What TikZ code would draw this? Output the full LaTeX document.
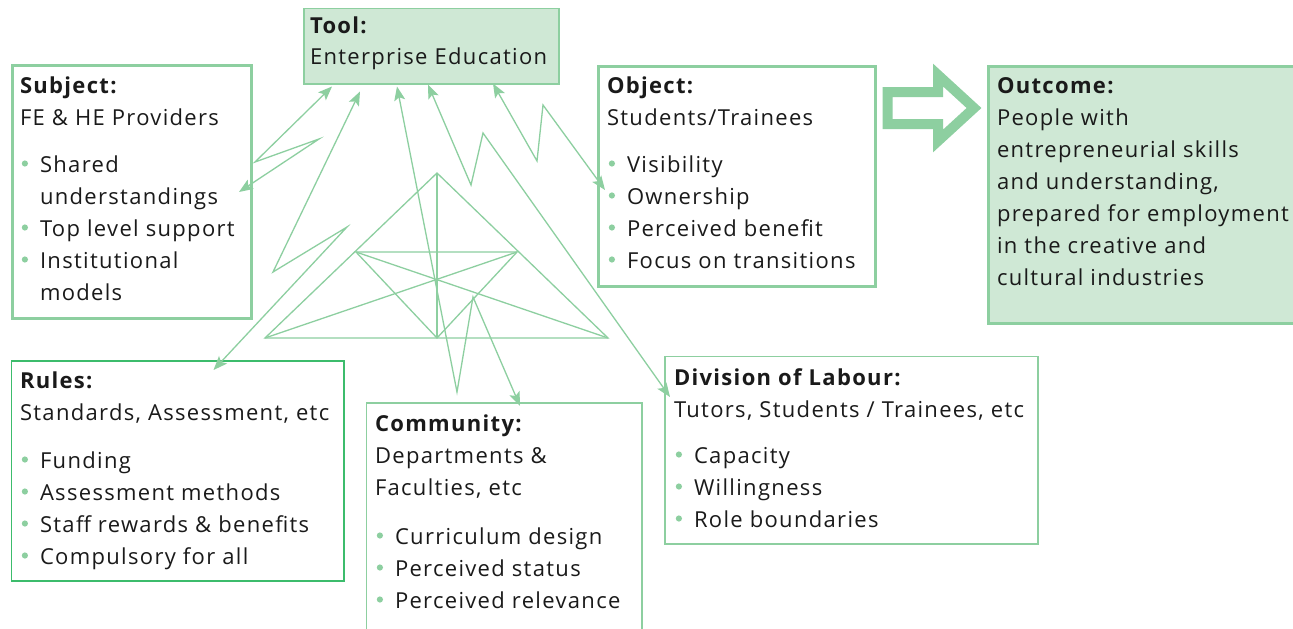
\documentclass[tikz,border=0pt]{standalone}
\usepackage{fontspec}
\setmainfont{Open Sans}[LetterSpace=6]
\usetikzlibrary{arrows.meta,calc}
\definecolor{lg}{RGB}{141,207,160}
\definecolor{fg}{RGB}{207,232,213}
\definecolor{rg}{RGB}{60,188,108}
\definecolor{tx}{RGB}{26,26,26}
\newcommand\bdot{\tikz[baseline=0pt]\fill[lg] (3.2pt,8.5pt) circle[radius=3.1pt];}
\newcommand\bitem[1]{\par\noindent\makebox[20pt][l]{\hspace{1.8pt}\bdot}#1}
\newcommand\bcont[1]{\par\noindent\hspace*{20pt}#1}
\newcommand\boxtext[1]{\begin{minipage}[t]{400pt}\fontsize{22}{32}\selectfont\raggedright #1\end{minipage}}
\tikzset{
  txt/.style={inner sep=0pt, outer sep=0pt, anchor=base west, text=tx},
  thickbox/.style={draw=lg, line width=3pt, inner sep=0pt, anchor=north west},
  thinbox/.style={draw=lg, line width=1.5pt, inner sep=0pt, anchor=north west},
  conn/.style={draw=lg, line width=1.3pt, line join=miter,
    {Stealth[length=14pt,width=11pt,inset=3pt]}-{Stealth[length=14pt,width=11pt,inset=3pt]}},
  tri/.style={draw=lg, line width=1.3pt},
}
\begin{document}
\begin{tikzpicture}[x=1pt,y=-1pt]
\useasboundingbox[fill=white] (0,0) rectangle (1293,629);

% boxes
\node[thinbox, fill=fg, minimum width=255pt, minimum height=75.5pt] (tool) at (303,7.5) {};
\node[thickbox, minimum width=239pt, minimum height=253pt] (subj) at (11,64) {};
\node[thickbox, minimum width=277pt, minimum height=220pt] (obj) at (596.5,65) {};
\node[thickbox, fill=fg, minimum width=320pt, minimum height=257pt] (outc) at (986.5,64.5) {};
\node[thinbox, draw=rg, minimum width=332.5pt, minimum height=220pt] (rules) at (10.5,360) {};
\node[thinbox, minimum width=275.5pt, minimum height=240pt] (comm) at (365.5,402) {};
\node[thinbox, minimum width=373pt, minimum height=187.5pt] (dol) at (664,355.5) {};

% texts
\node[txt] (toolT) at (310,33) {\boxtext{\textbf{Tool:}\par Enterprise Education}};
\node[txt] (subjT) at (20,93) {\boxtext{\textbf{Subject:}\par FE \& HE Providers\par\vspace{15pt}%
  \bitem{Shared}\bcont{understandings}\bitem{Top level support}\bitem{Institutional}\bcont{models}}};
\node[txt] (objT) at (607,93) {\boxtext{\textbf{Object:}\par Students/Trainees\par\vspace{15pt}%
  \bitem{Visibility}\bitem{Ownership}\bitem{Perceived benefit}\bitem{Focus on transitions}}};
\node[txt] (outcT) at (997,93) {\boxtext{\textbf{Outcome:}\par People with\par entrepreneurial skills\par and understanding,\par prepared for employment\par in the creative and\par cultural industries}};
\node[txt] (rulesT) at (20,388) {\boxtext{\textbf{Rules:}\par Standards, Assessment, etc\par\vspace{16pt}%
  \bitem{Funding}\bitem{Assessment methods}\bitem{Staff rewards \& benefits}\bitem{Compulsory for all}}};
\node[txt] (commT) at (375,431) {\boxtext{\textbf{Community:}\par Departments \&\par Faculties, etc\par\vspace{17pt}%
  \bitem{Curriculum design}\bitem{Perceived status}\bitem{Perceived relevance}}};
\node[txt] (dolT) at (674,385) {\boxtext{\textbf{Division of Labour:}\par Tutors, Students / Trainees, etc\par\vspace{14pt}%
  \bitem{Capacity}\bitem{Willingness}\bitem{Role boundaries}}};

% hollow arrow object -> outcome
\draw[lg, line width=10pt, line join=miter, miter limit=4]
  (887.5,92) -- (938,92) -- (938,75) -- (974,108) -- (938,141) -- (938,124) -- (887.5,124) -- cycle;

% central triangle
\coordinate (A) at (437,173);
\coordinate (BL) at (265,338);
\coordinate (BR) at (608,338);
\coordinate (ML) at (356,252);
\coordinate (MR) at (517,252);
\coordinate (MB) at (437,338);
\draw[tri] (A) -- (BL) -- (BR) -- cycle;
\draw[tri] (ML) -- (MR) -- (MB) -- cycle;
\draw[tri] (A) -- (MB);
\draw[tri] (BL) -- (MR);
\draw[tri] (BR) -- (ML);

% connectors
\draw[conn] ([xshift=29pt,yshift=-2pt]tool.south west) -- (255,162) -- (319,139) -- ([xshift=-14pt]subj.east);
\draw[conn] ([xshift=57pt,yshift=-7pt]tool.south west) -- (273,272) -- (347,227) -- ([xshift=203pt,yshift=-10pt]rules.north west);
\draw[conn] ([xshift=94pt,yshift=-2pt]tool.south west) -- (457,392) -- (473,297) -- ([xshift=154.5pt,yshift=-4pt]comm.north west);
\draw[conn] ([xshift=125pt]tool.south west) -- (471,185) -- (483,133) -- ([xshift=6pt,yshift=-41.5pt]dol.north west);
\draw[conn] ([xshift=190pt,yshift=1pt]tool.south west) -- (537,161) -- (543,105) -- ([xshift=8.5pt,yshift=-125pt]obj.north west);
\end{tikzpicture}
\end{document}
